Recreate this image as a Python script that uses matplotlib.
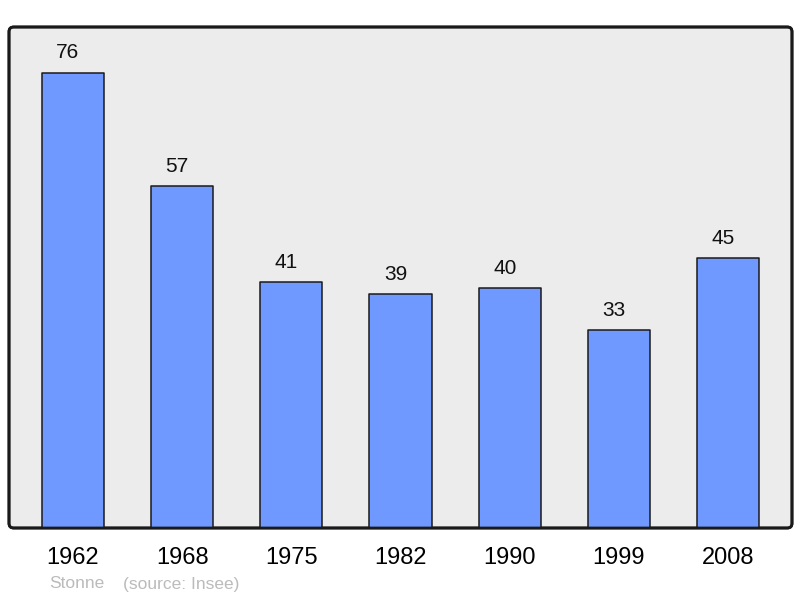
import matplotlib
matplotlib.use("Agg")
import matplotlib.pyplot as plt
from matplotlib.patches import FancyBboxPatch

years = ["1962", "1968", "1975", "1982", "1990", "1999", "2008"]
population = [76, 57, 41, 39, 40, 33, 45]
footer_name = "Stonne"
footer_source = "(source: Insee)"

plt.rcParams['font.family'] = ['Liberation Sans', 'DejaVu Sans']

fig = plt.figure(figsize=(8.0, 5.98), dpi=100)
ax = fig.add_axes([9/800, 1 - 528/598, (792 - 9)/800, (528 - 27)/598])
ax.set_facecolor('none')

x = list(range(len(years)))
bars = ax.bar(x, population, width=0.57, color='#7099ff', edgecolor='#1a1a1a',
              linewidth=1.1, zorder=3)
for b in bars:
    b.set_joinstyle('round')

for xi, v in zip(x, population):
    ax.annotate(str(v), (xi, v), xytext=(-3.6, 7.5), textcoords='offset points',
                ha='center', va='bottom', fontsize=15, color='#111111')

ax.set_xlim(-0.585, len(years) - 1 + 0.585)
ax.set_ylim(0, max(population) * 1.1)
ax.set_xticks(x)
ax.set_xticklabels(years, fontsize=17)
ax.tick_params(axis='x', length=0, pad=14)
ax.set_yticks([])
for s in ax.spines.values():
    s.set_visible(False)

frame = FancyBboxPatch((0, 0), 1, 1, boxstyle="round,pad=0,rounding_size=0.006",
                       mutation_aspect=783/501, transform=ax.transAxes,
                       facecolor='#ececec', edgecolor='#1a1a1a', linewidth=2,
                       zorder=0, clip_on=False)
ax.add_patch(frame)
frame2 = FancyBboxPatch((0, 0), 1, 1, boxstyle="round,pad=0,rounding_size=0.006",
                        mutation_aspect=783/501, transform=ax.transAxes,
                        facecolor='none', edgecolor='#1a1a1a', linewidth=2,
                        zorder=5, clip_on=False)
ax.add_patch(frame2)

fig.text(49/800, 1 - 584/598, footer_name, fontsize=12.5, color='#bbbbbb', va='center', ha='left')
fig.text(123/800, 1 - 584/598, footer_source, fontsize=12.5, color='#bbbbbb', va='center', ha='left')

fig.savefig("out.png", dpi=100)
